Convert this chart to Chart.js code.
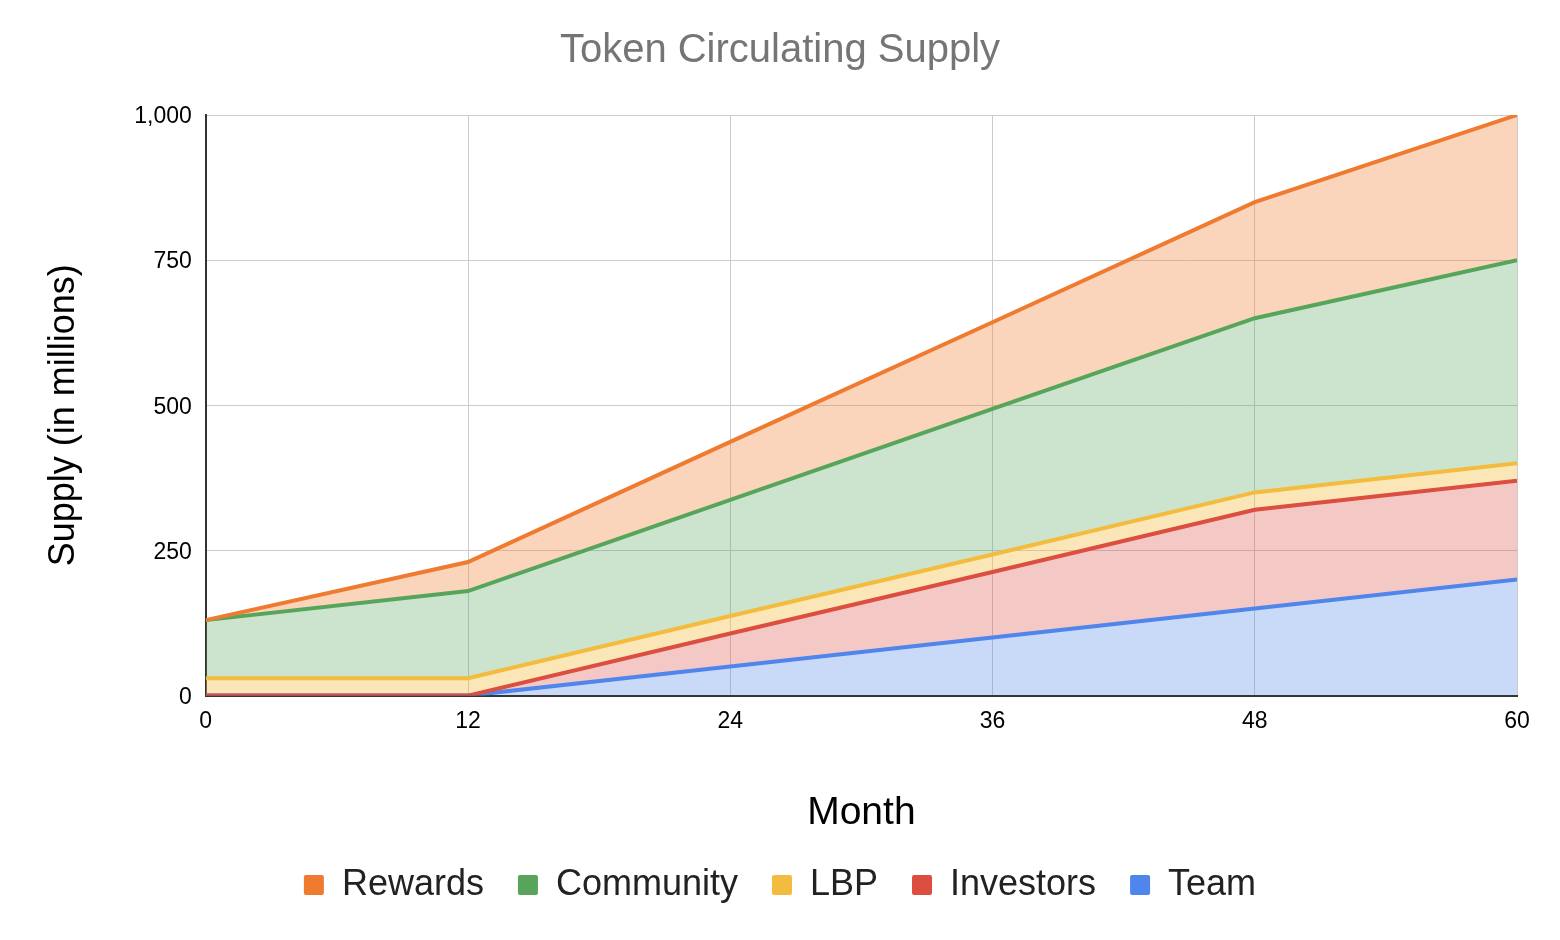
<!DOCTYPE html>
<html>
<head>
<meta charset="utf-8">
<script src="https://cdn.jsdelivr.net/npm/chart.js@4/dist/chart.umd.min.js"></script>
<style>
  html, body { margin: 0; padding: 0; background: #fff; }
  #wrap { width: 1560px; height: 940px; }
</style>
</head>
<body>
<div id="wrap"><canvas id="c" width="1560" height="940"></canvas></div>
<script>
const months = [0, 12, 24, 36, 48, 60];
const team = [0, 0, 50, 100, 150, 200];
const investors = [0, 0, 57, 113, 170, 170];
const lbp = [30, 30, 30, 30, 30, 30];
const community = [100, 150, 200, 251, 300, 350];
const rewards = [0, 50, 100, 149, 200, 250];
const yTicks = [0, 250, 500, 750, 1000];
const xTicks = [0, 12, 24, 36, 48, 60];

const FONT = "'Liberation Sans', Arial, sans-serif";

function pts(vals) { return months.map((m, i) => ({ x: m, y: vals[i] })); }

// stacked bottom to top
const series = [
  { label: 'Team', vals: team, color: '#5086ec', fillc: 'rgba(80,134,236,0.31)', fill: 'origin' },
  { label: 'Investors', vals: investors, color: '#dc4e3f', fillc: 'rgba(220,78,63,0.31)', fill: '-1' },
  { label: 'LBP', vals: lbp, color: '#f4bc3f', fillc: 'rgba(244,188,63,0.37)', fill: '-1' },
  { label: 'Community', vals: community, color: '#57a55a', fillc: 'rgba(87,165,90,0.30)', fill: '-1' },
  { label: 'Rewards', vals: rewards, color: '#ef7b31', fillc: 'rgba(239,123,49,0.33)', fill: '-1' }
];

const datasets = series.map(s => ({
  label: s.label,
  data: pts(s.vals),
  borderColor: s.color,
  backgroundColor: s.fillc,
  borderWidth: 4,
  pointRadius: 0,
  pointHoverRadius: 0,
  tension: 0,
  fill: s.fill,
  yAxisID: 'y'
}));

// draw the lines bottom series first so the upper series sit on top
const drawOrderPlugin = {
  id: 'drawOrder',
  beforeDatasetsDraw(chart) {
    const n = chart.data.datasets.length;
    for (let i = 0; i < n; i++) {
      const meta = chart.getDatasetMeta(i);
      if (meta.visible !== false) chart._drawDataset(meta);
    }
    return false;
  }
};

new Chart(document.getElementById('c'), {
  type: 'line',
  data: { datasets },
  plugins: [drawOrderPlugin],
  options: {
    responsive: false,
    animation: false,
    layout: { padding: { left: 0, right: 0, top: 0, bottom: 27 } },
    plugins: {
      tooltip: { enabled: false },
      filler: { drawTime: 'beforeDatasetsDraw' },
      title: {
        display: true,
        text: 'Token Circulating Supply',
        color: '#757575',
        font: { family: FONT, size: 40, weight: 'normal' },
        padding: { top: 27, bottom: 40 }
      },
      legend: {
        position: 'bottom',
        reverse: true,
        labels: {
          color: '#222',
          font: { family: FONT, size: 36 },
          boxWidth: 20,
          boxHeight: 20,
          padding: 34,
          useBorderRadius: true,
          borderRadius: 2,
          generateLabels(chart) {
            const items = Chart.defaults.plugins.legend.labels.generateLabels(chart);
            items.forEach(it => {
              const ds = chart.data.datasets[it.datasetIndex];
              it.fillStyle = ds.borderColor;
              it.strokeStyle = ds.borderColor;
              it.lineWidth = 0;
            });
            return items;
          }
        }
      }
    },
    scales: {
      x: {
        type: 'linear',
        min: 0,
        max: 60,
        afterBuildTicks(axis) { axis.ticks = xTicks.map(v => ({ value: v })); },
        grid: { color: '#cccccc', lineWidth: 1, drawTicks: false },
        border: { display: true, color: '#333333', width: 2 },
        ticks: { color: '#000', font: { family: FONT, size: 23 }, padding: 12, maxRotation: 0 },
        title: {
          display: true,
          text: 'Month',
          color: '#000',
          font: { family: FONT, size: 39 },
          padding: { top: 43, bottom: -4 }
        }
      },
      y: {
        stacked: true,
        min: 0,
        max: 1000,
        afterBuildTicks(axis) { axis.ticks = yTicks.map(v => ({ value: v })); },
        grid: { color: '#cccccc', lineWidth: 1, drawTicks: false },
        border: { display: true, color: '#333333', width: 2 },
        ticks: {
          color: '#000',
          font: { family: FONT, size: 23 },
          padding: 14,
          labelOffset: 2,
          callback: v => v.toLocaleString('en-US')
        },
        title: {
          display: true,
          text: 'Supply (in millions)  ',
          color: '#000',
          font: { family: FONT, size: 36 },
          padding: { top: 42, bottom: 35 }
        }
      },
      yRight: {
        position: 'right',
        display: true,
        min: 0,
        max: 1000,
        grid: { display: false, drawTicks: false },
        border: { display: false },
        ticks: { display: false },
        afterFit(scale) { scale.width = 43; }
      }
    }
  }
});
</script>
</body>
</html>
